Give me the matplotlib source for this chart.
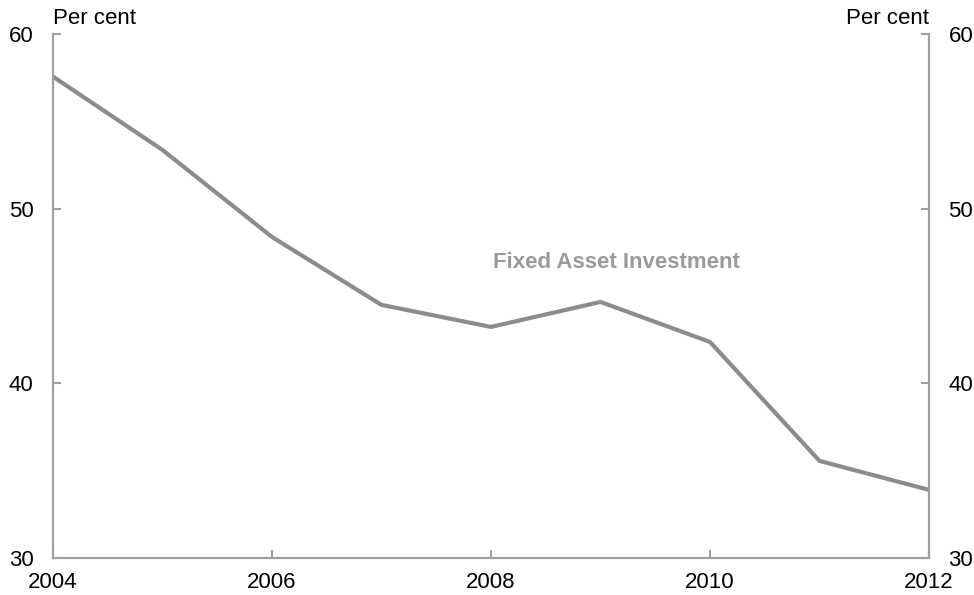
import matplotlib.pyplot as plt

plt.rcParams['font.family'] = ['Liberation Sans', 'DejaVu Sans']

years = [2004, 2005, 2006, 2007, 2008, 2009, 2010, 2011, 2012]
fai_share = [57.56, 53.36, 48.38, 44.49, 43.23, 44.66, 42.37, 35.56, 33.9]

line_col = '#8c8c8c'
axis_col = '#a0a0a0'

fig = plt.figure(figsize=(9.74, 5.95), dpi=100)
ax = fig.add_axes([53 / 974, 1 - 558 / 595, 876 / 974, 524 / 595])
ax.plot(years, fai_share, color=line_col, lw=3, solid_joinstyle='miter')

ax.set_xlim(2004, 2012)
ax.set_ylim(30, 60)
ax.set_xticks([2004, 2006, 2008, 2010, 2012])
ax.set_yticks([30, 40, 50, 60])

# mirrored right-hand axis
ax2 = ax.twinx()
ax2.set_ylim(30, 60)
ax2.set_yticks([30, 40, 50, 60])

for a in (ax, ax2):
    a.spines['top'].set_visible(False)
    for s in ('left', 'right', 'bottom'):
        a.spines[s].set_color(axis_col)
        a.spines[s].set_linewidth(1.5)
    a.tick_params(direction='in', length=6, width=1.5, color=axis_col,
                  labelsize=16, pad=14)
ax.tick_params(axis='x', pad=10)

ax.text(0, 1.01, 'Per cent', transform=ax.transAxes, ha='left', va='bottom', fontsize=16)
ax.text(1, 1.01, 'Per cent', transform=ax.transAxes, ha='right', va='bottom', fontsize=16)

ax.text(2009.15, 46.9, 'Fixed Asset Investment', color='#9a9a9a', fontsize=16,
        fontweight='bold', ha='center', va='center')

fig.savefig('out.png', dpi=100)
